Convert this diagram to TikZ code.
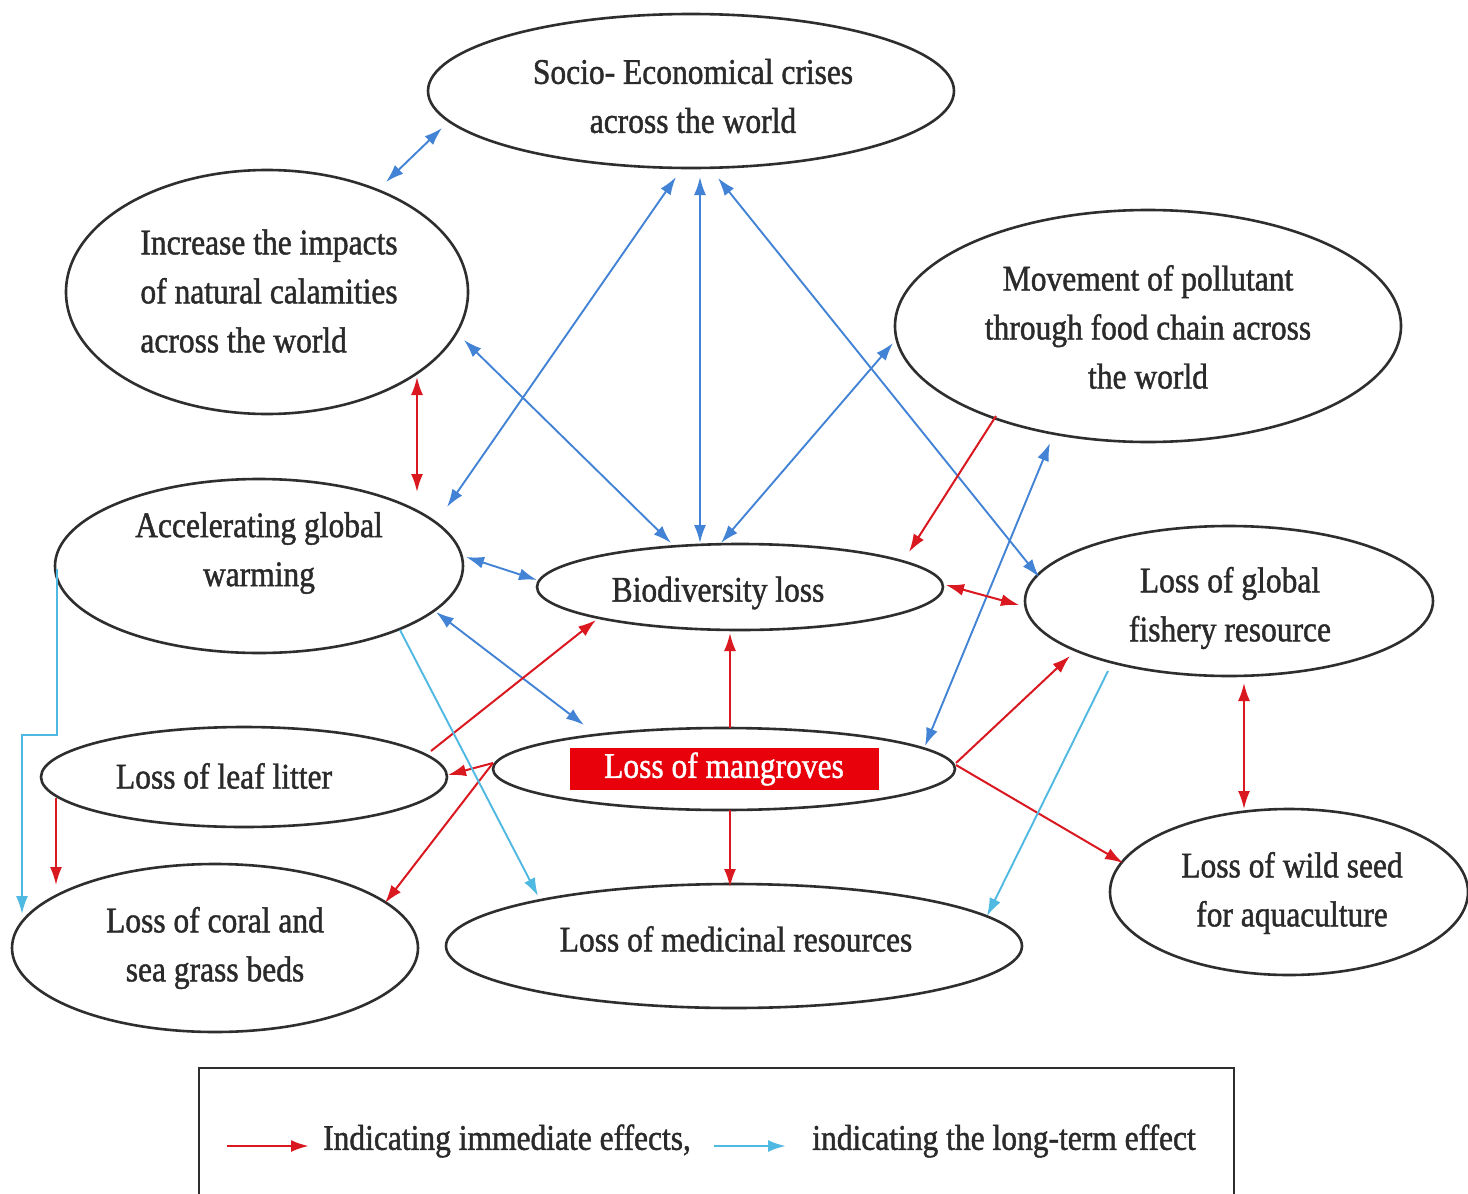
\documentclass[tikz,border=0pt]{standalone}
\usepackage{fontspec}
\setmainfont{Liberation Serif}[FakeStretch=0.875,FakeBold=1.2]
\usetikzlibrary{shapes.geometric,arrows.meta,calc}
\definecolor{cblue}{HTML}{4383D6}
\definecolor{cred}{HTML}{D9181F}
\definecolor{ccyan}{HTML}{4FB9E2}
\definecolor{cbox}{HTML}{E8000B}
\definecolor{cink}{HTML}{2A2A2A}
\definecolor{cedge}{HTML}{2E2E2E}
\begin{document}
\begin{tikzpicture}[x=1pt,y=-1pt,
  >={Latex[length=18pt,width=12pt]},
  ell/.style={draw=cedge, line width=2.6pt, ellipse, inner sep=0pt, outer sep=0pt},
  lbl/.style={text=cink, font=\fontsize{36}{49}\selectfont, align=center, inner sep=0pt},
  blu/.style={draw=cblue, line width=1.9pt},
  rdd/.style={draw=cred, line width=2pt},
  cya/.style={draw=ccyan, line width=1.9pt},
]
\useasboundingbox (0,0) rectangle (1468,1194);
\fill[white] (0,0) rectangle (1468,1194);

% ellipses
\node[ell, minimum width=526pt, minimum height=154pt] (socio) at (691,91) {};
\node[ell, minimum width=402pt, minimum height=244pt] (incr) at (267,292) {};
\node[ell, minimum width=506pt, minimum height=232pt] (move) at (1148,326) {};
\node[ell, minimum width=408pt, minimum height=174pt] (accel) at (259,566) {};
\node[ell, minimum width=406pt, minimum height=86pt] (bio) at (740,587) {};
\node[ell, minimum width=408pt, minimum height=150pt] (fish) at (1229,601) {};
\node[ell, minimum width=406pt, minimum height=100pt] (leaf) at (244,777) {};
\node[ell, minimum width=462pt, minimum height=82pt] (mang) at (724,769) {};
\node[ell, minimum width=358pt, minimum height=166pt] (wild) at (1289,892) {};
\node[ell, minimum width=406pt, minimum height=168pt] (coral) at (215,948) {};
\node[ell, minimum width=576pt, minimum height=124pt] (med) at (734,946) {};

% texts
\node[lbl] (tsocio) at (693,96) {Socio- Economical crises\\across the world};
\node[lbl, align=left] (tincr) at (269,291) {Increase the impacts\\of natural calamities\\across the world};
\node[lbl] (tmove) at (1148,327) {Movement of pollutant\\through food chain across\\the world};
\node[lbl] (taccel) at (259,553) {Accelerating global\\warming};
\node[lbl] (tbio) at (718,593) {Biodiversity loss};
\node[lbl] (tfish) at (1230,608) {Loss of global\\fishery resource};
\node[lbl] (tleaf) at (224,776) {Loss of leaf litter};
\node[lbl, fill=cbox, text=white, minimum width=309pt, minimum height=42pt] (tmang) at (724,769) {Loss of mangroves};
\node[lbl] (twild) at (1292,893) {Loss of wild seed\\for aquaculture};
\node[lbl] (tcoral) at (215,948) {Loss of coral and\\sea grass beds};
\node[lbl] (tmed) at (736,939) {Loss of medicinal resources};

% blue (double) connectors
\draw[blu,<->] ($(socio)+(-249,37)$) -- ($(incr)+(119,-110)$);
\draw[blu,<->] ($(socio)+(-15,86)$) -- ($(accel)+(188,-59)$);
\draw[blu,<->] ($(socio)+(9,86)$) -- ($(bio)+(-40,-44)$);
\draw[blu,<->] ($(socio)+(27,87)$) -- ($(fish)+(-190,-24)$);
\draw[blu,<->] ($(incr)+(197,48)$) -- ($(bio)+(-69,-44)$);
\draw[blu,<->] ($(move)+(-255,17)$) -- ($(bio)+(-19,-44)$);
\draw[blu,<->] ($(move)+(-98,117)$) -- ($(mang)+(201,-23)$);
\draw[blu,<->] ($(accel)+(207,-9)$) -- ($(bio)+(-203,-7)$);
\draw[blu,<->] ($(accel)+(177,46)$) -- ($(mang)+(-140,-44)$);

% red connectors
\draw[rdd,<->] ($(incr)+(150,85)$) -- ($(accel)+(158,-74)$);
\draw[rdd,->] ($(move)+(-152,90)$) -- ($(bio)+(169,-35)$);
\draw[rdd,<->] ($(bio)+(206,-2)$) -- ($(fish)+(-210,4)$);
\draw[rdd,->] ($(mang)+(6,-41)$) -- ($(bio)+(-10,46)$);
\draw[rdd,->] ($(leaf)+(187,-26)$) -- ($(bio)+(-144,33)$);
\draw[rdd,->] ($(mang)+(-231,-6)$) -- ($(leaf)+(204,-2)$);
\draw[rdd,->] ($(mang)+(-231,-6)$) -- ($(coral)+(170,-45)$);
\draw[rdd,->] ($(mang)+(6,41)$) -- ($(med)+(-4,-59)$);
\draw[rdd,->] ($(mang)+(232,-6)$) -- ($(fish)+(-159,55)$);
\draw[rdd,->] ($(mang)+(232,-4)$) -- ($(wild)+(-166,-29)$);
\draw[rdd,<->] ($(fish)+(15,82)$) -- ($(wild)+(-45,-83)$);
\draw[rdd,->] ($(leaf)+(-188,21)$) -- ($(coral)+(-159,-63)$);

% cyan connectors
\draw[cya,->] ($(accel)+(-202,3)$) -- ++(0,166) -- ++(-35,0) -- ($(coral)+(-193,-34)$);
\draw[cya,->] ($(accel)+(141,64)$) -- ($(med)+(-196,-50)$);
\draw[cya,->] ($(fish)+(-121,70)$) -- ($(med)+(253,-30)$);

% legend
\node[draw=cedge, line width=2.5pt, minimum width=1035pt, minimum height=170pt, anchor=north west, inner sep=0pt, outer sep=0pt] (legend) at (199,1068) {};
\coordinate (lr1) at (227,1146);
\coordinate (lr2) at (309,1146);
\coordinate (lc1) at (714,1146);
\coordinate (lc2) at (786,1146);
\draw[rdd,line width=2.6pt,->] (lr1) -- (lr2);
\draw[cya,line width=2.6pt,->] (lc1) -- (lc2);
\node[lbl] (lt1) at (507,1141) {Indicating immediate effects,};
\node[lbl] (lt2) at (1004,1141) {indicating the long-term effect};
\end{tikzpicture}
\end{document}
